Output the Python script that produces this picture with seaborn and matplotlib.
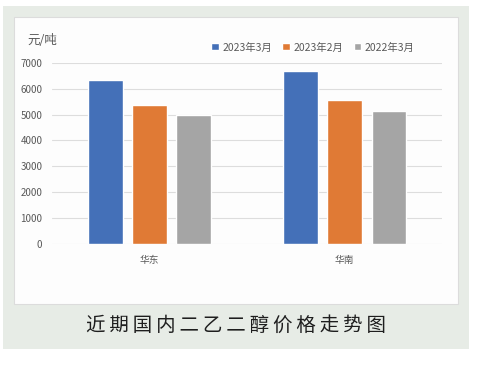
import matplotlib
matplotlib.use("Agg")
import matplotlib.pyplot as plt
from matplotlib.patches import Rectangle
import seaborn as sns
import pandas as pd

regions = ["华东", "华南"]
periods = ["2023年3月", "2023年2月", "2022年3月"]
price_2023_03 = [6350, 6700]
price_2023_02 = [5375, 5550]
price_2022_03 = [5000, 5150]
colors = ["#4470B8", "#E07A35", "#A5A5A5"]
title = "近期国内二乙二醇价格走势图"

rows = []
for period, vals in zip(periods, [price_2023_03, price_2023_02, price_2022_03]):
    for region, v in zip(regions, vals):
        rows.append({"region": region, "period": period, "price": v})
df = pd.DataFrame(rows)

sns.set_style("white")
plt.rcParams["font.family"] = ["Noto Sans CJK SC", "DejaVu Sans"]

fig = plt.figure(figsize=(4.78, 3.67), dpi=100)
fig.patch.set_facecolor("white")
# outer light-green panel and inner white card
fig.patches.append(Rectangle((0.0063, 0.049), 0.975, 0.935, transform=fig.transFigure,
                             facecolor="#E7ECE6", edgecolor="none", zorder=0))
fig.patches.append(Rectangle((0.0293, 0.1717), 0.929, 0.782, transform=fig.transFigure,
                             facecolor="#FDFDFD", edgecolor="#DCDCDC", lw=0.8, zorder=1))

ax = fig.add_axes([0.1088, 0.336, 0.816, 0.4924])
ax.set_zorder(3)
ax.set_facecolor("none")
sns.barplot(data=df, x="region", y="price", hue="period", hue_order=periods,
            palette=colors, width=0.68, gap=0.22, saturation=1, ax=ax, legend=True)

ax.set_ylim(0, 7000)
ax.set_yticks(range(0, 7001, 1000))
ax.yaxis.grid(True, color="#DDDDDD", lw=0.8)
ax.set_axisbelow(True)
for s in ax.spines.values():
    s.set_visible(False)
ax.tick_params(axis="both", length=0, labelsize=7, colors="#595959")
ax.tick_params(axis="y", pad=7)
ax.tick_params(axis="x", pad=8)
ax.set_xlabel("")
ax.set_ylabel("")

ax.legend(loc="lower right", bbox_to_anchor=(0.94, 1.035), ncol=3, frameon=False,
          fontsize=7.5, handlelength=0.7, handleheight=0.7, handletextpad=0.35,
          columnspacing=1.0, labelcolor="#595959", borderaxespad=0)

fig.text(0.057, 0.89, "元/吨", fontsize=9, color="#595959", va="center", zorder=4)
fig.text(0.493, 0.113, "\u2009".join(title), fontsize=14, color="#1E1E1E",
         ha="center", va="center", zorder=4)

fig.savefig("out.png", dpi=100)
